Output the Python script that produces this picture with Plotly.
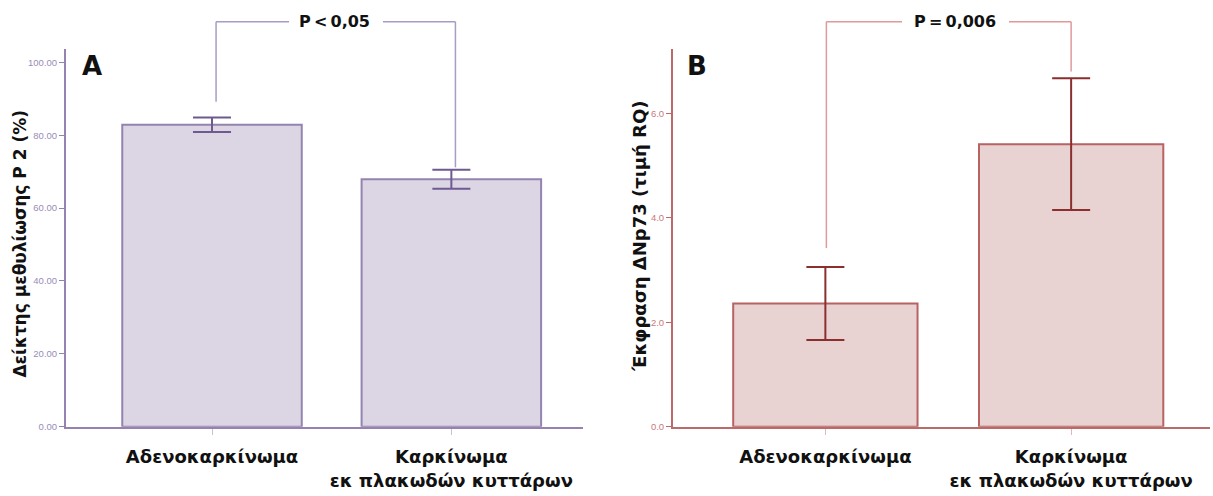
import plotly.graph_objects as go

categories = ["Αδενοκαρκίνωμα", "Καρκίνωμα<br>εκ πλακωδών κυττάρων"]
a_means = [82.9, 67.9]
a_errs = [2.0, 2.6]
b_means = [2.36, 5.41]
b_errs = [0.70, 1.26]
a_ticks = [0, 20, 40, 60, 80, 100]
b_ticks = [0, 2, 4, 6]
p_a = "P\u2009<\u20090,05"
p_b = "P\u2009=\u20090,006"

W, H = 1213, 496
EFF_A, EFF_B = 491.6, 493.4   # measured pixel mapping of paper coords


def py(px):
    return (EFF_A - px) / EFF_B


Y0, Y1 = py(427), py(47)
A_RANGE = [0, 103.8]
B_RANGE = [0, 7.24]
XR_A = [-0.61, 1.55]
XR_B = [-0.62, 1.565]

A_AX = "#9483b0"
A_FILL = "#dcd6e4"
A_ERR = "#6e5a90"
B_AX = "#bb6a6a"
B_FILL = "#e9d2d2"
B_LINE = "#b86262"
B_ERR = "#8b2e2e"

FONT = "DejaVu Sans, Verdana, sans-serif"

fig = go.Figure()
fig.add_trace(go.Bar(
    x=[0, 1], y=a_means, width=0.75, xaxis="x", yaxis="y",
    marker=dict(color=A_FILL, line=dict(color=A_AX, width=2)),
    error_y=dict(type="data", array=a_errs, color=A_ERR, thickness=2, width=19),
    showlegend=False,
))
fig.add_trace(go.Bar(
    x=[0, 1], y=b_means, width=0.75, xaxis="x2", yaxis="y2",
    marker=dict(color=B_FILL, line=dict(color=B_LINE, width=2)),
    error_y=dict(type="data", array=b_errs, color=B_ERR, thickness=2, width=19),
    showlegend=False,
))

tickfont_cat = dict(family=FONT, size=18, color="#111111")

fig.update_layout(
    width=W, height=H, margin=dict(l=0, r=0, t=0, b=0),
    paper_bgcolor="white", plot_bgcolor="white",
    xaxis=dict(domain=[66 / W, 583 / W], range=XR_A, tickvals=[0, 1],
               ticktext=["<b>%s</b>" % c for c in categories],
               showline=True, linecolor=A_AX, linewidth=2, ticks="outside",
               ticklen=6, tickcolor="#c8c0d8", showgrid=False, zeroline=False,
               tickfont=tickfont_cat, ticklabelstandoff=7, fixedrange=True),
    yaxis=dict(domain=[Y0, Y1], range=A_RANGE, tickvals=a_ticks,
               tickformat=".2f", showline=True, linecolor=A_AX, linewidth=2,
               ticks="outside", ticklen=5, tickcolor=A_AX, showgrid=False,
               zeroline=False,
               tickfont=dict(family="Liberation Sans, Arial", size=9.5, color="#9a8cb8")),
    xaxis2=dict(domain=[673 / W, 1210 / W], range=XR_B, tickvals=[0, 1],
                ticktext=["<b>%s</b>" % c for c in categories],
                showline=True, linecolor=B_AX, linewidth=2, ticks="outside",
                ticklen=6, tickcolor="#e0b8b8", showgrid=False, zeroline=False,
                tickfont=tickfont_cat, ticklabelstandoff=7, anchor="y2",
                fixedrange=True),
    yaxis2=dict(domain=[Y0, Y1], range=B_RANGE, tickvals=b_ticks,
                tickformat=".1f", showline=True, linecolor=B_AX, linewidth=2,
                ticks="outside", ticklen=5, tickcolor=B_AX, showgrid=False,
                zeroline=False, anchor="x2",
                tickfont=dict(family="Liberation Sans, Arial", size=9.5, color="#c87a7a")),
)


def to_paper(v, rng):
    return Y0 + (v - rng[0]) / (rng[1] - rng[0]) * (Y1 - Y0)


top = py(20)
shapes = []


def xa(px):
    return XR_A[0] + (px - 66) / (583 - 66) * (XR_A[1] - XR_A[0])


def xb(px):
    return XR_B[0] + (px - 673) / (1210 - 673) * (XR_B[1] - XR_B[0])


la, ra = 0.017, 1.017
a_left_bot = to_paper(a_means[0] + a_errs[0] + 4.3, A_RANGE)
a_right_bot = to_paper(a_means[1] + a_errs[1] + 0.7, A_RANGE)
for (x0, y0, x1, y1) in [(la, a_left_bot, la, top), (la, top, xa(289), top),
                         (xa(383), top, ra, top), (ra, top, ra, a_right_bot)]:
    shapes.append(dict(type="line", xref="x", yref="paper", x0=x0, x1=x1, y0=y0, y1=y1,
                       line=dict(color="#a99cc4", width=1.5)))

lb, rb = 0.004, 1.0
b_left_bot = to_paper(b_means[0] + b_errs[0] + 0.36, B_RANGE)
b_right_bot = to_paper(b_means[1] + b_errs[1] + 0.13, B_RANGE)
for (x0, y0, x1, y1) in [(lb, b_left_bot, lb, top), (lb, top, xb(902), top),
                         (xb(1009), top, rb, top), (rb, top, rb, b_right_bot)]:
    shapes.append(dict(type="line", xref="x2", yref="paper", x0=x0, x1=x1, y0=y0, y1=y1,
                       line=dict(color="#e09a9a", width=1.5)))
fig.update_layout(shapes=shapes)

bold = dict(family=FONT, color="#111111")
common = dict(showarrow=False, xanchor="center", yanchor="middle")
ann = [
    dict(x=xa(334), y=top, xref="x", yref="paper",
         text="<b>%s</b>" % p_a.replace("<", "&lt;"),
         font=dict(size=16, **bold), **common),
    dict(x=xb(955), y=top, xref="x2", yref="paper", text="<b>%s</b>" % p_b,
         font=dict(size=16, **bold), **common),
    dict(x=92 / W, y=py(65), xref="paper", yref="paper", text="<b>A</b>",
         font=dict(size=26, **bold), **common),
    dict(x=697 / W, y=py(65), xref="paper", yref="paper", text="<b>B</b>",
         font=dict(size=26, **bold), **common),
    dict(x=20 / W, y=py(243), xref="paper", yref="paper",
         text="<b>Δείκτης μεθυλίωσης P 2 (%)</b>", textangle=-90,
         font=dict(size=17, **bold), **common),
    dict(x=640 / W, y=py(236), xref="paper", yref="paper",
         text="<b>Έκφραση ΔNp73 (τιμή RQ)</b>", textangle=-90,
         font=dict(size=18, **bold), **common),
]
fig.update_layout(annotations=ann)

fig.write_html("out.html")
